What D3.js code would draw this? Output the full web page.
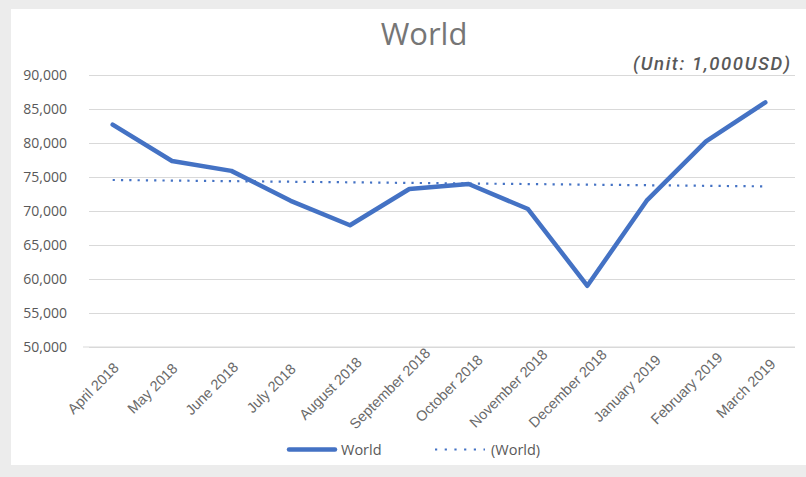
<!DOCTYPE html>
<html lang="en">
<head>
<meta charset="utf-8">
<title>World</title>
<script src="https://cdn.jsdelivr.net/npm/d3@7"></script>
<style>
  body { margin: 0; background: #ececec; }
</style>
</head>
<body>
<div id="chart"></div>
<script>
  // data (unit: 1,000 USD)
  var months = ["April 2018", "May 2018", "June 2018", "July 2018", "August 2018", "September 2018",
                "October 2018", "November 2018", "December 2018", "January 2019", "February 2019", "March 2019"];
  var world = [82700, 77350, 75900, 71500, 67900, 73240, 73970, 70290, 59000, 71520, 80240, 85970];
  // linear trend line "(World)", its two ends
  var trendEnds = [74560, 73620];
  var yTicks = [50000, 55000, 60000, 65000, 70000, 75000, 80000, 85000, 90000];

  var W = 806, H = 477;
  var blue = "#4472c4";

  var svg = d3.select("#chart").append("svg")
    .attr("width", W).attr("height", H);

  // card
  svg.append("rect").attr("x", 0).attr("y", 0).attr("width", W).attr("height", H).attr("fill", "#ececec");
  svg.append("rect").attr("x", 11).attr("y", 9).attr("width", W - 11).attr("height", 456).attr("fill", "#fff");

  var x = d3.scaleBand().domain(months).range([83, 795]).padding(0);
  var cx = function(d) { return x(d) + x.bandwidth() / 2; };
  var y = d3.scaleLinear().domain([50000, 90000]).range([347, 75]);

  // gridlines + y labels
  var yAxis = svg.append("g")
    .attr("transform", "translate(89,0)")
    .call(d3.axisLeft(y).tickValues(yTicks).tickSize(-(795 - 89)).tickPadding(22)
      .tickFormat(d3.format(",")));
  yAxis.select(".domain").remove();
  yAxis.selectAll("line").attr("stroke", "#d9d9d9");
  yAxis.selectAll("text")
    .attr("font-family", "'Open Sans', sans-serif")
    .attr("font-size", 14)
    .attr("fill", "#595959");

  // category axis line
  svg.append("line")
    .attr("x1", 83).attr("x2", 795)
    .attr("y1", y(50000)).attr("y2", y(50000))
    .attr("stroke", "#d9d9d9");

  // x labels, rotated -45 and centred under each category
  svg.append("g").selectAll("text")
    .data(months).enter().append("text")
    .attr("transform", function(d) { return "translate(" + (cx(d) - 16) + "," + (y(50000) + 45) + ") rotate(-45)"; })
    .attr("text-anchor", "middle")
    .attr("font-family", "'Liberation Sans', Arial, sans-serif")
    .attr("font-size", 14.5)
    .attr("fill", "#6a6a6a")
    .text(function(d) { return d; });

  // trend line
  var trendPts = [[months[0], trendEnds[0]], [months[months.length - 1], trendEnds[1]]];
  svg.append("path")
    .datum(trendPts)
    .attr("d", d3.line().x(function(d) { return cx(d[0]); }).y(function(d) { return y(d[1]); }))
    .attr("fill", "none")
    .attr("stroke", blue)
    .attr("stroke-width", 2.2)
    .attr("stroke-dasharray", "2.2 6.1");

  // main series
  svg.append("path")
    .datum(world)
    .attr("d", d3.line().x(function(d, i) { return cx(months[i]); }).y(function(d) { return y(d); }))
    .attr("fill", "none")
    .attr("stroke", blue)
    .attr("stroke-width", 4.5)
    .attr("stroke-linejoin", "round")
    .attr("stroke-linecap", "round");

  // title and unit
  svg.append("text")
    .attr("x", 424).attr("y", 45)
    .attr("text-anchor", "middle")
    .attr("font-family", "'Open Sans', sans-serif")
    .attr("font-size", 31)
    .attr("fill", "#767676")
    .text("World");

  svg.append("text")
    .attr("x", 633).attr("y", 70)
    .attr("font-family", "Roboto, sans-serif")
    .attr("font-style", "italic")
    .attr("font-weight", 500)
    .attr("font-size", 18.5)
    .attr("textLength", 157)
    .attr("lengthAdjust", "spacing")
    .attr("fill", "#595959")
    .text("(Unit: 1,000USD)");

  // legend
  var leg = svg.append("g");
  leg.append("line").attr("x1", 289).attr("x2", 335).attr("y1", 449.5).attr("y2", 449.5)
    .attr("stroke", blue).attr("stroke-width", 4.5).attr("stroke-linecap", "round");
  leg.append("text").attr("x", 341).attr("y", 455).attr("fill", "#595959")
    .attr("font-family", "'Open Sans', sans-serif").attr("font-size", 14.5).text("World");
  leg.append("line").attr("x1", 435).attr("x2", 485).attr("y1", 449.5).attr("y2", 449.5)
    .attr("stroke", blue).attr("stroke-width", 2.2).attr("stroke-dasharray", "2.2 7.5");
  leg.append("text").attr("x", 491).attr("y", 455).attr("fill", "#595959")
    .attr("font-family", "'Open Sans', sans-serif").attr("font-size", 14.5).text("(World)");
</script>
</body>
</html>
